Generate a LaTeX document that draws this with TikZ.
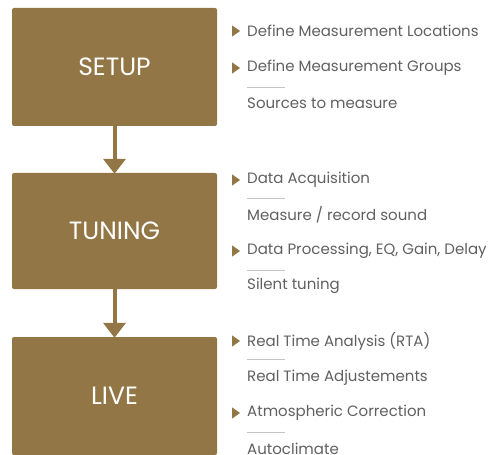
\documentclass[tikz,border=0pt]{standalone}
\usepackage{fontspec}
\setmainfont{Poppins}
\usepackage{xcolor}
\usetikzlibrary{shapes.geometric,arrows.meta,positioning}

\definecolor{gold}{HTML}{937646}
\definecolor{txtgray}{HTML}{606060}
\definecolor{rulegray}{HTML}{C4C4C4}

\begin{document}
\begin{tikzpicture}[
    x=1pt, y=-1pt,
    phase/.style={rectangle, fill=gold, text=white, minimum width=205pt, minimum height=118pt, rounded corners=2pt, font=\fontsize{25}{25}\selectfont},
    item/.style={anchor=west, inner sep=0pt, text=txtgray, font=\fontsize{15}{16}\selectfont},
    bullet/.style={isosceles triangle, isosceles triangle apex angle=70, fill=gold, inner sep=0pt, minimum height=8pt, minimum width=9pt},
    sep/.style={draw=rulegray, line width=0.8pt},
    arrow/.style={-{Triangle[width=22pt,length=15pt]}, line width=4pt, draw=gold}
]
\clip (0,0) rectangle (502,454);

% phases
\node[phase] (setup) at (114.5,67) {SETUP};
\node[phase, minimum height=116pt] (tuning) at (114.5,231) {TUNING};
\node[phase] (live) at (114.5,396) {LIVE};

\draw[arrow] (setup.south) -- ([yshift=-1pt]tuning.north);
\draw[arrow] (tuning.south) -- ([yshift=-1pt]live.north);

% setup items
\node[bullet] (b1) at (235,31) {};
\node[item] (loc) at (247,31) {Define Measurement Locations};
\node[bullet] (b2) at (235,68) {};
\node[item] (grp) at (247,68) {Define Measurement Groups};
\draw[sep] (247,87) -- (285,87);
\node[item] (src) at (247,103) {Sources to measure};

% tuning items
\node[bullet] (b3) at (235,180) {};
\node[item] (acq) at (247,180) {Data Acquisition};
\draw[sep] (247,198) -- (285,198);
\node[item] (rec) at (247,215) {Measure / record sound};
\node[bullet] (b4) at (235,251) {};
\node[item] (proc) at (247,251) {Data Processing, EQ, Gain, Delay};
\draw[sep] (247,270) -- (285,270);
\node[item] (sil) at (247,286) {Silent tuning};

% live items
\node[bullet] (b5) at (235,341) {};
\node[item] (rta) at (247,341) {Real Time Analysis (RTA)};
\draw[sep] (247,359) -- (285,359);
\node[item] (adj) at (247,378) {Real Time Adjustements};
\node[bullet] (b6) at (235,413) {};
\node[item] (atm) at (247,413) {Atmospheric Correction};
\draw[sep] (247,432) -- (285,432);
\node[item] (clim) at (247,449) {Autoclimate};
\end{tikzpicture}
\end{document}
